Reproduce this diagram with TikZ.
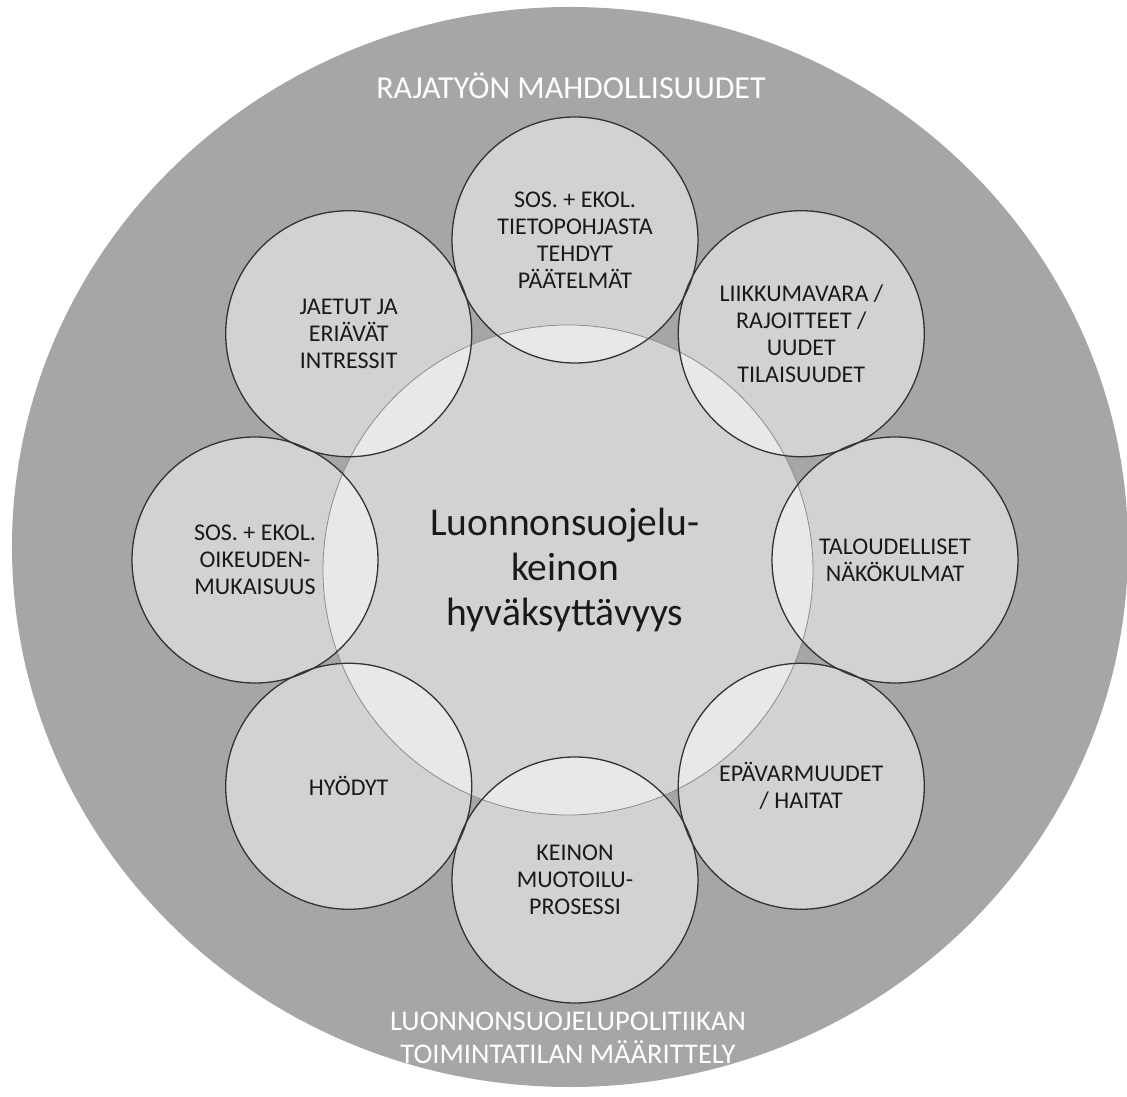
\documentclass[tikz,border=0pt]{standalone}
\usepackage{fontspec}
\setmainfont{Carlito}
\usetikzlibrary{calc}

\begin{document}
\begin{tikzpicture}[x=1pt,y=1pt]

% Size of the picture (pixels of the original)
\useasboundingbox (-575,-537) rectangle (552,560);

% Define radii
\def\R{320}   % ring of the small circles
\def\rs{123}  % small circle
\def\rc{245}  % central circle

\tikzset{
  bubble/.style={fill=white, fill opacity=0.5},
  smalltext/.style={align=center, text=black!90,
    font=\fontsize{24}{27}\selectfont},
  outertext/.style={align=center, text=white}
}

% Outer area
\fill[gray!70] (-5,13) ellipse [x radius=558, y radius=540];

% Central circle and the eight small ones (half transparent white)
\fill[bubble] (-7,-10) circle (\rc);
\foreach \a in {90,45,0,-45,-90,-135,180,135}
  \fill[bubble] (\a:\R) circle (\rs);

% Outlines
\draw[black!45, line width=0.8] (-7,-10) circle (\rc);
\foreach \a in {90,45,0,-45,-90,-135,180,135}
  \draw[black!80, line width=1.3] (\a:\R) circle (\rs);

% Texts
\node[align=center, text=black!90, font=\fontsize{39.5}{45}\selectfont]
  (hyvaksyttavyys) at (-10,-10) {Luonnonsuojelu-\\keinon\\hyväksyttävyys};

\node[smalltext] (tieto)     at (90:\R)   {SOS. + EKOL.\\TIETOPOHJASTA\\TEHDYT\\PÄÄTELMÄT};
\node[smalltext] (liikkuma)  at (45:\R)   {LIIKKUMAVARA /\\RAJOITTEET /\\UUDET\\TILAISUUDET};
\node[smalltext] (talous)    at (0:\R)    {TALOUDELLISET\\NÄKÖKULMAT};
\node[smalltext] (epavarma)  at (-45:\R)  {EPÄVARMUUDET\\/ HAITAT};
\node[smalltext] (muotoilu)  at (-90:\R)  {KEINON\\MUOTOILU-\\PROSESSI};
\node[smalltext] (hyodyt)    at (-135:\R) {HYÖDYT};
\node[smalltext] (oikeus)    at (180:\R)  {SOS. + EKOL.\\OIKEUDEN-\\MUKAISUUS};
\node[smalltext] (intressit) at (135:\R)  {JAETUT JA\\ERIÄVÄT\\INTRESSIT};

\node[outertext, font=\fontsize{32}{36}\selectfont]
  (rajatyo) at (-4,474) {RAJATYÖN MAHDOLLISUUDET};
\node[outertext, font=\fontsize{28.5}{33}\selectfont]
  (politiikka) at (-7,-478) {LUONNONSUOJELUPOLITIIKAN\\TOIMINTATILAN MÄÄRITTELY};

\end{tikzpicture}
\end{document}
